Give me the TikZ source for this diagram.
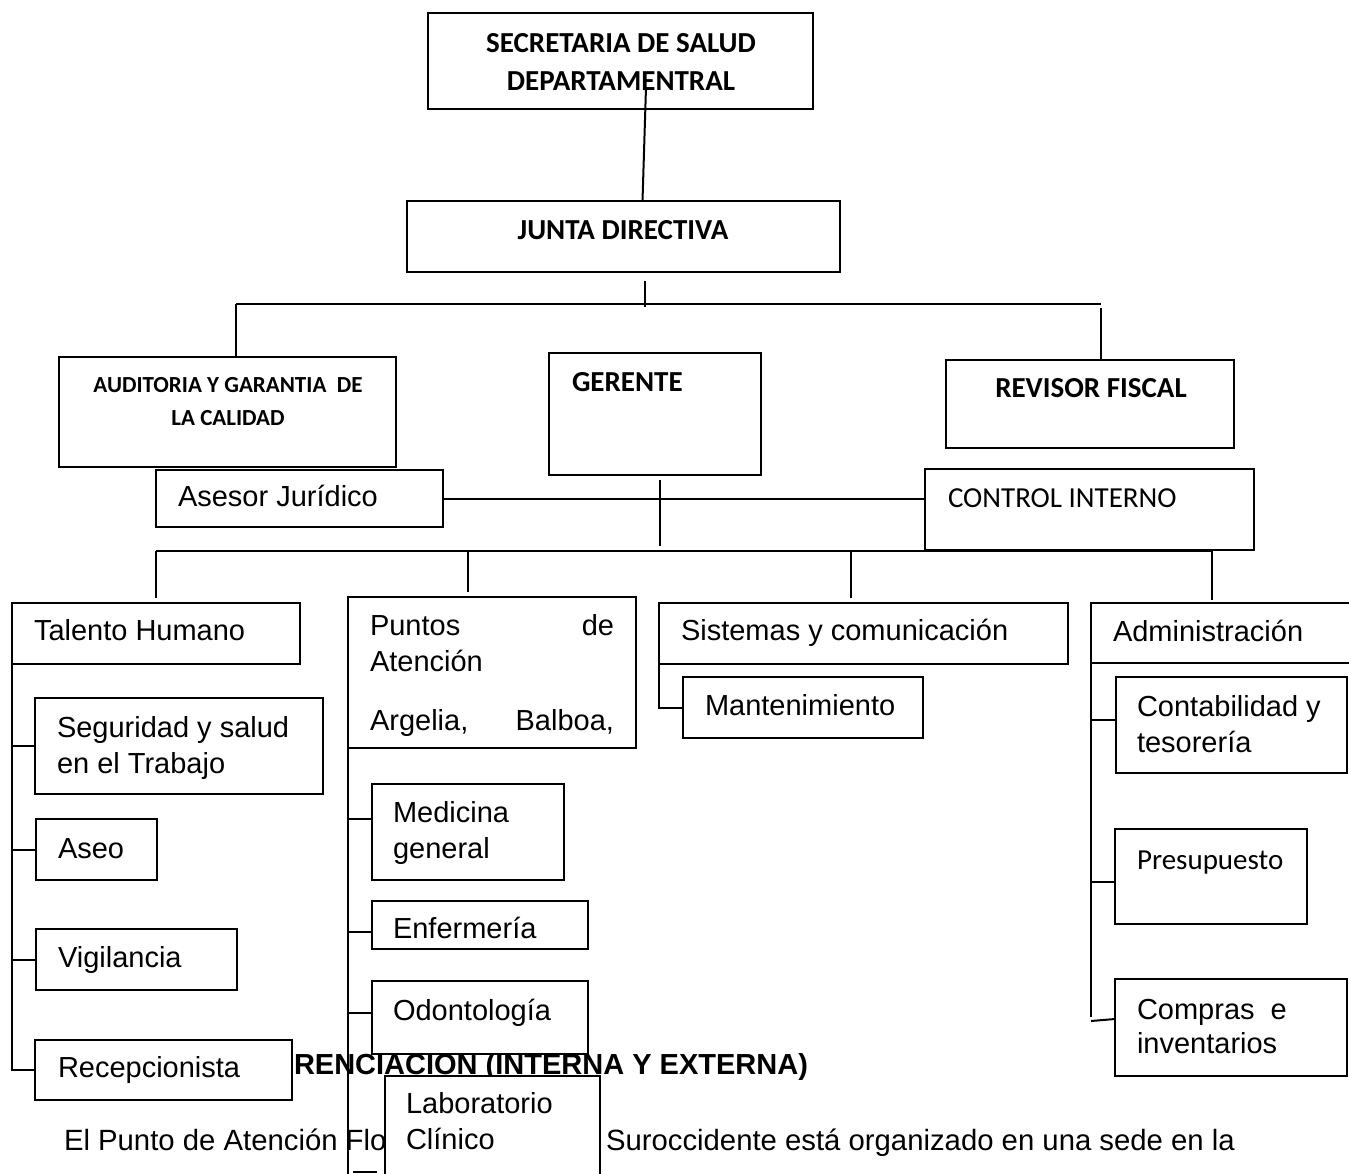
\documentclass[tikz,border=0pt]{standalone}
\usepackage{fontspec}
\setmainfont{Liberation Sans}
\newfontfamily\calibrifont{Carlito}
\begin{document}
\begin{tikzpicture}[x=1pt,y=-1pt,line width=2pt,
  box/.style={draw,fill=white,rectangle,inner sep=0pt,outer sep=0pt,anchor=north west},
  tx/.style={inner sep=0pt,anchor=base west,font=\fontsize{29}{35}\selectfont},
  txe/.style={tx,anchor=base east},
  ptx/.style={inner sep=0pt,anchor=base west,font=\fontsize{29.3}{35}\selectfont},
  hb/.style={inner sep=0pt,anchor=base,font=\calibrifont\bfseries\fontsize{29}{35}\selectfont},
  hbl/.style={hb,anchor=base west},
  hs/.style={hb,font=\calibrifont\bfseries\fontsize{23}{28}\selectfont},
  cr/.style={inner sep=0pt,anchor=base west,font=\calibrifont\fontsize{29}{35}\selectfont}
]
\clip (0,0) rectangle (1349,1173);
\fill[white] (0,0) rectangle (1349,1173);

% background text (partly covered by boxes)
\node[tx,font=\bfseries\fontsize{29}{35}\selectfont] (renc) at (293,1074) {RENCIACION (INTERNA Y EXTERNA)};
\node[ptx] (para1) at (63,1150) {El Punto de Atención Flo};
\node[ptx] (para2) at (605,1150) {Suroccidente está organizado en una sede en la};

% boxes
\node[box,minimum width=385pt,minimum height=96pt] (sec) at (428,13) {};
\node[box,minimum width=433pt,minimum height=71pt] (junta) at (407,201) {};
\node[box,minimum width=337pt,minimum height=110pt] (aud) at (59,357) {};
\node[box,minimum width=212pt,minimum height=122pt] (ger) at (549,353) {};
\node[box,minimum width=288pt,minimum height=88pt] (rev) at (946,360) {};
\node[box,minimum width=287pt,minimum height=57pt] (ases) at (156,470) {};
\node[box,minimum width=329pt,minimum height=81pt] (ctrl) at (925,469) {};
\node[box,minimum width=288pt,minimum height=61pt] (tal) at (12,603) {};
\node[box,minimum width=288pt,minimum height=151pt] (pun) at (348,597) {};
\node[box,minimum width=409pt,minimum height=61pt] (sis) at (659,603) {};
\node[box,minimum width=320pt,minimum height=60pt] (adm) at (1091,603) {};
\node[box,minimum width=240pt,minimum height=61pt] (mant) at (683,677) {};
\node[box,minimum width=288pt,minimum height=96pt] (seg) at (35,698) {};
\node[box,minimum width=121pt,minimum height=61pt] (aseo) at (36,819) {};
\node[box,minimum width=201pt,minimum height=61pt] (vig) at (36,929) {};
\node[box,minimum width=257pt,minimum height=60pt] (rec) at (35,1040) {};
\node[box,minimum width=192pt,minimum height=96pt] (med) at (372,784) {};
\node[box,minimum width=216pt,minimum height=48pt] (enf) at (372,901) {};
\node[box,minimum width=216pt,minimum height=73pt] (odo) at (372,981) {};
\node[box,minimum width=215pt,minimum height=124pt] (lab) at (385,1076) {};
\node[box,minimum width=231pt,minimum height=96pt] (cont) at (1116,677) {};
\node[box,minimum width=192pt,minimum height=95pt] (pres) at (1115,829) {};
\node[box,minimum width=232pt,minimum height=97pt] (comp) at (1115,979) {};

% texts in boxes
\node[hb] (secA) at (621,52) {SECRETARIA DE SALUD};
\node[hb] (secB) at (621,90) {DEPARTAMENTRAL};
\node[hb] (juntaT) at (623,239) {JUNTA DIRECTIVA};
\node[hs] (audA) at (228,392) {AUDITORIA Y GARANTIA\ \ DE};
\node[hs] (audB) at (228,425) {LA CALIDAD};
\node[hbl] (gerT) at (571,391) {GERENTE};
\node[hb] (revT) at (1091,397) {REVISOR FISCAL};
\node[tx] (asesT) at (177,506) {Asesor Jurídico};
\node[cr] (ctrlT) at (947,507) {CONTROL INTERNO};
\node[tx] (talT) at (33,640) {Talento Humano};
\node[tx] (punA) at (369,635) {Puntos};
\node[txe] (punB) at (615,635) {de};
\node[tx] (punC) at (369,671) {Atención};
\node[tx] (punD) at (369,730) {Argelia,};
\node[txe] (punE) at (615,730) {Balboa,};
\node[tx] (sisT) at (680,640) {Sistemas y comunicación};
\node[tx] (mantT) at (704,715) {Mantenimiento};
\node[tx] (admT) at (1112,641) {Administración};
\node[tx] (segA) at (56,737) {Seguridad y salud};
\node[tx] (segB) at (56,773) {en el Trabajo};
\node[tx] (contA) at (1136,716) {Contabilidad y};
\node[tx] (contB) at (1136,752) {tesorería};
\node[tx] (medA) at (392,822) {Medicina};
\node[tx] (medB) at (392,858) {general};
\node[tx] (aseoT) at (57,858) {Aseo};
\node[tx] (enfT) at (392,938) {Enfermería};
\node[cr] (presT) at (1136,869) {Presupuesto};
\node[tx] (vigT) at (57,967) {Vigilancia};
\node[tx] (odoT) at (392,1020) {Odontología};
\node[tx] (compA) at (1136,1019) {Compras\ \ e};
\node[tx] (compB) at (1136,1053) {inventarios};
\node[tx] (recT) at (57,1077) {Recepcionista};
\node[tx] (labA) at (405,1113) {Laboratorio};
\node[tx] (labB) at (405,1149) {Clínico};

% connectors
\draw ([xshift=25.5pt,yshift=22pt]sec.south) -- ([xshift=19pt]junta.north);
\draw ([xshift=21.5pt,yshift=-9pt]junta.south) -- ++(0,26);
\coordinate (barL) at (236,304);
\coordinate (barR) at (1101,304);
\draw (barL) -- (barR);
\draw (barL) -- (aud.north -| barL);
\draw ([yshift=-4pt]barR) -- (rev.north -| barR);
\draw (ases.east) -- (ases.east -| ctrl.west);
\draw ([xshift=5pt,yshift=-5pt]ger.south) -- ++(0,66);
\coordinate (b2L) at (156,551);
\coordinate (b2R) at (1212,551);
\draw (b2L) -- (b2R);
\draw (b2L) -- ([yshift=5pt]tal.north -| b2L);
\draw (468,551) coordinate (b2a) -- ([yshift=5pt]pun.north -| b2a);
\draw (851,551) coordinate (b2b) -- ([yshift=5pt]sis.north -| b2b);
\draw (b2R) -- ([yshift=3pt]adm.north -| b2R);
% Talento Humano branch
\draw (tal.south west) -- (tal.south west |- rec.west) -- (rec.west);
\draw (tal.south west |- seg.west) -- (seg.west);
\draw (tal.south west |- aseo.west) -- (aseo.west);
\draw (tal.south west |- vig.west) -- (vig.west);
% Puntos branch
\draw (pun.south west) -- (pun.south west |- lab.south);
\draw (pun.south west |- 0,819) coordinate (pm) -- (pm -| med.west);
\draw (pun.south west |- 0,932) coordinate (pe) -- (pe -| enf.west);
\draw (pun.south west |- 0,1013) coordinate (po) -- (po -| odo.west);
\draw ([xshift=5pt]pun.south west |- 0,1172) coordinate (pl) -- ([xshift=-8pt]pl -| lab.west);
% Sistemas branch
\draw (sis.south west) -- (sis.south west |- mant.west) -- (mant.west);
% Administracion branch
\draw (adm.south west) -- (adm.south west |- 0,1017);
\draw (adm.south west |- 0,720) coordinate (ac) -- (ac -| cont.west);
\draw (adm.south west |- 0,882) coordinate (ap) -- (ap -| pres.west);
\draw (adm.south west |- 0,1021) coordinate (am) -- ([yshift=2pt]am -| comp.west);
\end{tikzpicture}
\end{document}
